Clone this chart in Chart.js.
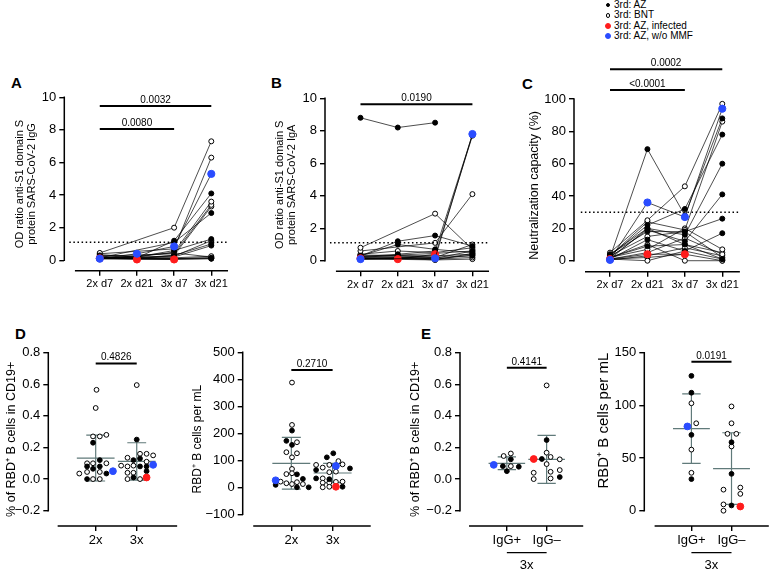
<!DOCTYPE html>
<html>
<head>
<meta charset="utf-8">
<script src="https://cdn.jsdelivr.net/npm/chart.js@4.4.1/dist/chart.umd.min.js"></script>
<style>
  body { margin: 0; background: #fff; }
  #fig { position: relative; width: 774px; height: 571px; overflow: hidden;
         font-family: "Liberation Sans", Arial, Helvetica, sans-serif; color: #000; }
  .panel { position: absolute; }
  .letter { position: absolute; font-weight: bold; font-size: 15px; line-height: 15px; }
  .key { position: absolute; left: 614px; font-size: 10px; line-height: 12px; height: 12px; white-space: nowrap; }
  .dot { position: absolute; border-radius: 50%; box-sizing: border-box; }
</style>
</head>
<body>
<div id="fig">
  <div class="letter" style="left:11px;top:75px">A</div>
  <div class="letter" style="left:271px;top:75px">B</div>
  <div class="letter" style="left:522px;top:76px">C</div>
  <div class="letter" style="left:15px;top:326px">D</div>
  <div class="letter" style="left:421px;top:326px">E</div>
  <div id="legend"></div>
</div>
<script>
// time points of panels A-C
var timepoints = ["2x d7", "2x d21", "3x d7", "3x d21"];
// a = 3rd: AZ, o = 3rd: BNT, r = 3rd: AZ infected, b = 3rd: AZ w/o MMF
var subjectKinds = ["b", "r", "a", "a", "a", "a", "a", "a", "a",
                    "o", "o", "o", "o", "o", "o", "o", "o", "o", "o"];

// A: OD ratio IgG, one row per subject
var iggRatio = [
  [0.10, 0.40, 0.85, 5.3],
  [0.12, 0.05, 0.05, null],
  [0.20, 0.15, 1.20, 4.1],
  [0.15, null, 1.10, 2.9],
  [0.30, 0.20, 0.60, 1.3],
  [0.12, 0.10, 0.30, 1.0],
  [0.18, 0.15, 0.20, 0.9],
  [0.15, 0.12, 0.10, 0.15],
  [0.10, 0.10, 0.08, 0.10],
  [0.45, null, 2.00, 7.3],
  [0.40, null, 0.70, 6.3],
  [0.35, 0.20, 0.50, 3.6],
  [0.25, null, 0.40, 3.4],
  [0.20, 0.15, 0.30, 3.3],
  [0.15, null, 0.25, 1.2],
  [0.10, 0.12, 0.15, 0.25],
  [0.12, null, 0.10, 0.15],
  [0.08, 0.10, 0.05, 0.10],
  [0.10, null, 0.45, 0.20]
];

// B: OD ratio IgA
var igaRatio = [
  [0.10, null, 0.15, 7.8],
  [0.15, 0.10, 0.40, null],
  [8.80, 8.20, 8.50, null],
  [0.30, 1.20, 1.55, 0.9],
  [0.30, 1.00, 0.70, 0.5],
  [0.25, 0.40, 0.60, 7.75],
  [0.20, 0.35, 0.45, 0.6],
  [0.15, 0.20, 0.30, 0.4],
  [0.10, 0.15, 0.20, 0.3],
  [0.80, null, 2.90, 0.7],
  [0.60, null, 1.10, 4.1],
  [0.40, 0.60, 0.50, 0.8],
  [0.35, null, 0.30, 7.7],
  [0.30, 0.30, 0.20, 1.0],
  [0.25, null, 0.15, 0.6],
  [0.20, 0.25, 0.10, 0.35],
  [0.15, null, 0.10, 0.2],
  [0.10, 0.15, 0.05, 0.1],
  [0.12, null, 0.05, 0.45]
];

// C: neutralization capacity (%)
var neutralization = [
  [0.5, 36, 27, 94],
  [1, 4, 4, null],
  [2, 69, 28, 88],
  [3, 22, 32, 78],
  [1, 20, 16, 60],
  [2, 19, 12, 41],
  [4, 18, 18, 26],
  [1, 13, 6, 17],
  [2, 9, 10, 1],
  [5, 25, 46, 97],
  [3, 24, 19, 86],
  [2, 7, 20, 7],
  [1, 5, 14, 4],
  [0.5, 3, 8, 3],
  [1, 0, 6, 1],
  [2, 10, 0, 0],
  [3, 15, 18, 2],
  [4, 20, 10, 5],
  [1, 2, 4, 0]
];

// D left: % of RBD+ B cells in CD19+
var doseLabels = ["2x", "3x"];
var cd19Dose2 = [0.565, 0.45, 0.27, 0.27, 0.28, 0.23, 0.12, 0.10, 0.10, 0.10, 0.08, 0.08, 0.065, 0.035, 0.045, 0.045, 0.035, 0.05, 0.0, 0.0, 0.0];
var cd19Dose2Jit = [0.02, 0, -0.065, 0.10, 0.26, -0.065, 0.10, -0.21, -0.065, 0.26, -0.21, 0.10, -0.065, -0.40, -0.21, 0.10, 0.26, 0.42, -0.21, -0.065, 0.10];
var cd19Dose2Kind = ["o", "o", "o", "o", "o", "a", "a", "o", "o", "o", "a", "a", "a", "o", "o", "o", "a", "b", "a", "o", "o"];
var cd19Dose3 = [0.595, 0.25, 0.16, 0.16, 0.15, 0.135, 0.12, 0.13, 0.11, 0.085, 0.08, 0.085, 0.08, 0.08, 0.09, 0.04, 0.04, 0.05, 0.0, 0.0, 0.01, 0.01];
var cd19Dose3Jit = [0, 0, 0.08, 0.24, 0.40, -0.225, -0.08, 0.08, 0.24, -0.38, -0.225, -0.08, 0.08, 0.24, 0.40, -0.225, -0.08, 0.24, -0.225, 0.08, -0.08, 0.24];
var cd19Dose3Kind = ["o", "a", "o", "o", "o", "o", "a", "a", "o", "o", "o", "o", "a", "a", "b", "o", "o", "a", "o", "o", "a", "r"];
var cd19Mean = [0.133, 0.112];
var cd19Sd = [0.145, 0.118];

// D right: RBD+ B cells per mL
var perMlDose2 = [388, 231, 210, 172, 167, 157, 130, 126, 111, 68, 52, 49, 48, 21, 31, 26, 9, 15, 12, 19, 12, 0, 0];
var perMlDose2Jit = [0.016, 0.016, 0.016, -0.12, 0.136, 0.016, -0.12, 0.136, 0.016, 0.016, 0.016, -0.12, 0.136, -0.26, 0.28, -0.38, -0.38, -0.12, 0.016, 0.136, 0.28, 0.136, 0.42];
var perMlDose2Kind = ["o", "o", "a", "a", "o", "a", "o", "o", "o", "o", "o", "o", "a", "o", "a", "b", "a", "o", "o", "o", "o", "a", "a"];
var perMlDose3 = [126, 111, 83, 73, 83, 97, 85, 79, 70, 56, 58, 33, 30, 33, 17, 17, 21, 20, 0, 2, 2, 2, 64];
var perMlDose3Jit = [0.016, -0.14, -0.4, -0.24, -0.08, 0.14, 0.24, 0.08, 0.42, -0.08, 0.08, -0.4, -0.08, -0.24, -0.24, -0.08, 0.24, 0.08, -0.24, -0.08, 0.08, 0.24, -0.4];
var perMlDose3Kind = ["a", "a", "o", "o", "o", "o", "o", "b", "a", "o", "o", "a", "a", "o", "o", "o", "o", "o", "o", "o", "r", "a", "a"];
var perMlMean = [89, 53];
var perMlSd = [96, 36];

// E left: % of RBD+ B cells in CD19+, split by IgG status after 3 doses
var iggLabels = ["IgG+", "IgG\u2013"];
var cd19IggPos = [0.146, 0.162, 0.125, 0.09, 0.082, 0.082, 0.078, 0.05];
var cd19IggPosJit = [-0.08, 0.1, 0.1, -0.33, -0.1, 0.1, 0.3, 0];
var cd19IggPosKind = ["o", "o", "a", "b", "a", "o", "a", "a"];
var cd19IggNeg = [0.593, 0.247, 0.167, 0.127, 0.127, 0.14, 0.125, 0.095, 0.04, 0.046, 0.057, 0.0, 0.004, 0.013];
var cd19IggNegJit = [0, 0, 0, -0.325, -0.12, 0.1, 0.33, 0, -0.325, 0.1, 0.33, -0.325, 0.1, 0.33];
var cd19IggNegKind = ["o", "a", "o", "r", "a", "o", "o", "o", "o", "o", "o", "o", "o", "a"];
var cd19IggMean = [0.10, 0.125];
var cd19IggSd = [0.04, 0.152];

// E right: RBD+ B cells per mL by IgG status
var perMlIggPos = [128, 112, 102, 83, 80, 72, 58, 36, 30];
var perMlIggPosJit = [0, 0, 0, 0.12, -0.1, 0, 0, 0, 0];
var perMlIggPosKind = ["a", "a", "o", "o", "b", "a", "o", "o", "a"];
var perMlIggNeg = [99, 83, 73, 73, 65, 61, 35, 20, 22, 16, 6, 5, 4, 0];
var perMlIggNegJit = [0, 0, -0.1, 0.12, 0, 0, 0, -0.2, 0.22, 0.22, -0.2, 0, 0.22, -0.2];
var perMlIggNegKind = ["o", "o", "o", "o", "a", "o", "a", "o", "o", "o", "o", "a", "r", "o"];
var perMlIggMean = [78, 40];
var perMlIggSd = [33, 34];

var legendItems = ["3rd: AZ", "3rd: BNT", "3rd: AZ, infected", "3rd: AZ, w/o MMF"];
var legendKinds = ["a", "o", "r", "b"];

var FONT = '"Liberation Sans", Arial, Helvetica, sans-serif';
Chart.defaults.font.family = FONT;
Chart.defaults.color = "#000";

var kindStyle = {
  a: { fill: "#000000", edge: "#000000", r: 2.5 },
  o: { fill: "#ffffff", edge: "#000000", r: 2.5 },
  r: { fill: "#ff1c1c", edge: "#ff1c1c", r: 3.6 },
  b: { fill: "#2a4cff", edge: "#2a4cff", r: 3.6 }
};

var fig = document.getElementById("fig");

// legend
var legend = document.getElementById("legend");
legendItems.forEach(function (txt, i) {
  var s = kindStyle[legendKinds[i]];
  var cy = 5 + i * 10.3;
  var row = document.createElement("div");
  row.className = "key";
  row.style.top = (cy - 6) + "px";
  row.textContent = txt;
  legend.appendChild(row);
  var d = document.createElement("div");
  var r = legendKinds[i] === "a" || legendKinds[i] === "o" ? 2.4 : 3;
  d.className = "dot";
  d.style.left = (608 - r) + "px";
  d.style.top = (cy - r) + "px";
  d.style.width = d.style.height = (2 * r) + "px";
  d.style.background = s.fill;
  d.style.border = "1.1px solid " + s.edge;
  fig.appendChild(d);
});

function subjectDatasets(rows) {
  return rows.map(function (row, i) {
    var s = kindStyle[subjectKinds[i]];
    return {
      data: row.map(function (v, t) { return { x: t, y: v }; }),
      showLine: true,
      spanGaps: true,
      borderColor: "#000",
      borderWidth: 0.7,
      pointBackgroundColor: s.fill,
      pointBorderColor: s.edge,
      pointBorderWidth: 1,
      pointRadius: s.r
    };
  });
}

function dotDatasets(groups, means, sds) {
  var sets = ["b", "r", "a", "o"].map(function (k) {
    var pts = [];
    groups.forEach(function (g, ci) {
      g.vals.forEach(function (v, j) {
        if (g.kinds[j] === k) pts.push({ x: ci + g.jit[j], y: v });
      });
    });
    var s = kindStyle[k];
    return {
      data: pts,
      showLine: false,
      pointBackgroundColor: s.fill,
      pointBorderColor: s.edge,
      pointBorderWidth: 1,
      pointRadius: k === "a" || k === "o" ? 2.4 : 3.4
    };
  });
  // mean line with SD whiskers
  var bars = [];
  means.forEach(function (m, ci) {
    var sd = sds[ci];
    bars.push({ x: ci - 0.46, y: m }, { x: ci + 0.46, y: m }, { x: ci, y: null },
              { x: ci - 0.23, y: m + sd }, { x: ci + 0.23, y: m + sd }, { x: ci, y: null },
              { x: ci - 0.23, y: m - sd }, { x: ci + 0.23, y: m - sd }, { x: ci, y: null },
              { x: ci, y: m - sd }, { x: ci, y: m + sd }, { x: ci, y: null });
  });
  sets.push({ data: bars, showLine: true, spanGaps: false, borderColor: "#607a7a",
              borderWidth: 1.2, pointRadius: 0 });
  return sets;
}

function decor(o) {
  return {
    id: "gpDecor",
    afterDatasetsDraw: function (chart) {
      var ctx = chart.ctx, xs = chart.scales.x, ys = chart.scales.y, area = chart.chartArea;
      var xa = xs.getPixelForValue(o.xAxis[0]), xb = xs.getPixelForValue(o.xAxis[1]);
      ctx.save();
      ctx.strokeStyle = "#000";
      ctx.fillStyle = "#000";
      ctx.lineWidth = 1.5;
      ctx.beginPath();
      ctx.moveTo(area.left, ys.getPixelForValue(o.yAxis[0]) + 0.7);
      ctx.lineTo(area.left, ys.getPixelForValue(o.yAxis[1]) - 0.7);
      ctx.moveTo(xa, area.bottom);
      ctx.lineTo(xb, area.bottom);
      ctx.stroke();
      if (o.cutoff != null) {
        var cy = ys.getPixelForValue(o.cutoff);
        ctx.setLineDash([1.5, 2.6]);
        ctx.lineWidth = 1.5;
        ctx.beginPath();
        ctx.moveTo(xs.getPixelForValue(o.cutoffFrom), cy);
        ctx.lineTo(xb, cy);
        ctx.stroke();
        ctx.setLineDash([]);
      }
      ctx.lineWidth = 2;
      ctx.font = "10px " + FONT;
      ctx.textAlign = "center";
      ctx.textBaseline = "alphabetic";
      (o.brackets || []).forEach(function (b) {
        var py = ys.getPixelForValue(b.y);
        var x1 = xs.getPixelForValue(b.from), x2 = xs.getPixelForValue(b.to);
        ctx.beginPath();
        ctx.moveTo(x1, py);
        ctx.lineTo(x2, py);
        ctx.stroke();
        ctx.fillText(b.label, (x1 + x2) / 2, py - 3);
      });
      if (o.group) {
        var gy = area.bottom + 26.7;
        var g1 = xs.getPixelForValue(0), g2 = xs.getPixelForValue(1);
        ctx.lineWidth = 1.2;
        ctx.beginPath();
        ctx.moveTo(g1, gy);
        ctx.lineTo(g2, gy);
        ctx.stroke();
        ctx.font = "13px " + FONT;
        ctx.textBaseline = "middle";
        ctx.fillText(o.group, (g1 + g2) / 2, gy + 12.5);
      }
      ctx.restore();
    }
  };
}

function fmt(dec) {
  return function (v) {
    var s = Number(v).toFixed(dec);
    return s.charAt(0) === "-" ? "\u2212" + s.slice(1) : s;
  };
}

function makeChart(p) {
  var box = document.createElement("div");
  box.className = "panel";
  box.style.left = p.left + "px";
  box.style.top = p.top + "px";
  box.style.width = p.width + "px";
  box.style.height = p.height + "px";
  var cv = document.createElement("canvas");
  box.appendChild(cv);
  fig.appendChild(box);
  var tickGrid = { drawOnChartArea: false, color: "#000", lineWidth: 1.4, tickLength: 5 };
  new Chart(cv, {
    type: "scatter",
    data: { datasets: p.datasets },
    options: {
      responsive: true,
      maintainAspectRatio: false,
      animation: false,
      events: [],
      layout: { padding: { top: p.padTop, right: p.padRight, left: 0, bottom: 0 } },
      plugins: { legend: { display: false }, tooltip: { enabled: false } },
      scales: {
        x: {
          type: "linear",
          min: p.xRange[0],
          max: p.xRange[1],
          afterBuildTicks: function (sc) {
            sc.ticks = p.labels.map(function (l, i) { return { value: i }; });
          },
          afterFit: function (sc) { sc.height = p.xH; },
          ticks: {
            autoSkip: false, maxRotation: 0, padding: 2,
            font: { size: p.xFont },
            callback: function (v) { return p.labels[v]; }
          },
          grid: tickGrid,
          border: { display: false }
        },
        y: {
          min: p.yRange[0],
          max: p.yRange[1],
          afterBuildTicks: function (sc) {
            sc.ticks = p.yTicks.map(function (v) { return { value: v }; });
          },
          afterFit: function (sc) { sc.width = p.yW; },
          ticks: { autoSkip: false, padding: 3, font: { size: 13 }, callback: p.yFormat },
          grid: tickGrid,
          border: { display: false },
          title: {
            display: true,
            text: p.title,
            align: p.titleAlign || "center",
            font: { size: p.titleFont, lineHeight: 1.12 },
            padding: { top: p.titlePad, bottom: 0 }
          }
        }
      }
    },
    plugins: [decor(p.decor)]
  });
}

var odTicks = [0, 2, 4, 6, 8, 10];
var pctTicks = [0, 20, 40, 60, 80, 100];
var cd19Ticks = [-0.2, 0, 0.2, 0.4, 0.6, 0.8];
var perMlTicks = [-100, 0, 100, 200, 300, 400, 500];
var iggPerMlTicks = [0, 50, 100, 150];

// A
makeChart({
  left: 0, top: 76, width: 236, height: 224, yW: 64.3, padTop: 21.3, padRight: 4, xH: 29.3,
  xRange: [-0.954, 3.53], yRange: [-0.64, 10], labels: timepoints, xFont: 11,
  yTicks: odTicks, yFormat: fmt(0),
  title: ["OD ratio anti-S1 domain S", "protein SARS-CoV-2 IgG"], titleFont: 11, titlePad: 13.8,
  datasets: subjectDatasets(iggRatio),
  decor: { xAxis: [-0.668, 3.45], yAxis: [0, 10], cutoff: 1.1, cutoffFrom: -0.82,
           brackets: [{ from: 0, to: 2, y: 8.06, label: "0.0080" },
                      { from: 0, to: 3, y: 9.47, label: "0.0032" }] }
});

// B
makeChart({
  left: 260, top: 76, width: 236, height: 224, yW: 65, padTop: 22.3, padRight: 4, xH: 28.7,
  xRange: [-0.951, 3.498], yRange: [-0.65, 10], labels: timepoints, xFont: 11,
  yTicks: odTicks, yFormat: fmt(0),
  title: ["OD ratio anti-S1 domain S", "protein SARS-CoV-2 IgA"], titleFont: 11, titlePad: 13.8,
  datasets: subjectDatasets(igaRatio),
  decor: { xAxis: [-0.658, 3.445], yAxis: [0, 10], cutoff: 1.1, cutoffFrom: -0.818,
           brackets: [{ from: 0, to: 3, y: 9.63, label: "0.0190" }] }
});

// C
makeChart({
  left: 515, top: 50, width: 259, height: 250, yW: 59, padTop: 49, padRight: 29, xH: 28.3,
  xRange: [-0.962, 3.607], yRange: [-6.8, 100], labels: timepoints, xFont: 11,
  yTicks: pctTicks, yFormat: fmt(0),
  title: "Neutralization capacity (%)", titleFont: 12.5, titlePad: 13,
  datasets: subjectDatasets(neutralization),
  decor: { xAxis: [-0.668, 3.47], yAxis: [0, 100], cutoff: 30, cutoffFrom: -0.78,
           brackets: [{ from: 0, to: 2, y: 105.6, label: "<0.0001" },
                      { from: 0, to: 3, y: 118.4, label: "0.0002" }] }
});

// D left
makeChart({
  left: 0, top: 335, width: 184, height: 236, yW: 48.3, padTop: 17.7, padRight: 4, xH: 45,
  xRange: [-1.155, 2.03], yRange: [-0.297, 0.8], labels: doseLabels, xFont: 13,
  yTicks: cd19Ticks, yFormat: fmt(1),
  title: "% of RBD\u207A B cells in CD19+", titleFont: 12.5, titlePad: 5,
  datasets: dotDatasets([
    { vals: cd19Dose2, jit: cd19Dose2Jit, kinds: cd19Dose2Kind },
    { vals: cd19Dose3, jit: cd19Dose3Jit, kinds: cd19Dose3Kind }
  ], cd19Mean, cd19Sd),
  decor: { xAxis: [-0.927, 1.985], yAxis: [-0.2, 0.8],
           brackets: [{ from: 0, to: 1, y: 0.732, label: "0.4826" }] }
});

// D right
makeChart({
  left: 186, top: 335, width: 192, height: 236, yW: 56.7, padTop: 17.3, padRight: 4, xH: 45,
  xRange: [-1.178, 1.978], yRange: [-143.3, 500], labels: doseLabels, xFont: 13,
  yTicks: perMlTicks, yFormat: fmt(0),
  title: "RBD\u207A B cells per mL", titleFont: 12, titlePad: 4.6,
  datasets: dotDatasets([
    { vals: perMlDose2, jit: perMlDose2Jit, kinds: perMlDose2Kind },
    { vals: perMlDose3, jit: perMlDose3Jit, kinds: perMlDose3Kind }
  ], perMlMean, perMlSd),
  decor: { xAxis: [-0.923, 1.923], yAxis: [-100, 500],
           brackets: [{ from: 0, to: 1, y: 434, label: "0.2710" }] }
});

// E left
makeChart({
  left: 400, top: 335, width: 191, height: 236, yW: 60, padTop: 17.7, padRight: 1, xH: 45,
  xRange: [-1.178, 1.99], yRange: [-0.297, 0.8], labels: iggLabels, xFont: 13,
  yTicks: cd19Ticks, yFormat: fmt(1),
  title: "% of RBD\u207A B cells in CD19+", titleFont: 12.5, titlePad: 9,
  datasets: dotDatasets([
    { vals: cd19IggPos, jit: cd19IggPosJit, kinds: cd19IggPosKind },
    { vals: cd19IggNeg, jit: cd19IggNegJit, kinds: cd19IggNegKind }
  ], cd19IggMean, cd19IggSd),
  decor: { xAxis: [-0.951, 1.92], yAxis: [-0.2, 0.8], group: "3x",
           brackets: [{ from: 0, to: 1, y: 0.704, label: "0.4141" }] }
});

// E right
makeChart({
  left: 592, top: 335, width: 182, height: 236, yW: 52.3, padTop: 17.7, padRight: 0, xH: 45,
  xRange: [-1.175, 1.935], yRange: [-14.5, 150], labels: iggLabels, xFont: 13,
  yTicks: iggPerMlTicks, yFormat: fmt(0),
  title: "RBD\u207A B cells per mL", titleFont: 15, titlePad: 3.6, titleAlign: "end",
  datasets: dotDatasets([
    { vals: perMlIggPos, jit: perMlIggPosJit, kinds: perMlIggPosKind },
    { vals: perMlIggNeg, jit: perMlIggNegJit, kinds: perMlIggNegKind }
  ], perMlIggMean, perMlIggSd),
  decor: { xAxis: [-0.918, 1.93], yAxis: [0, 150], group: "3x",
           brackets: [{ from: 0, to: 1, y: 141.5, label: "0.0191" }] }
});
</script>
</body>
</html>
